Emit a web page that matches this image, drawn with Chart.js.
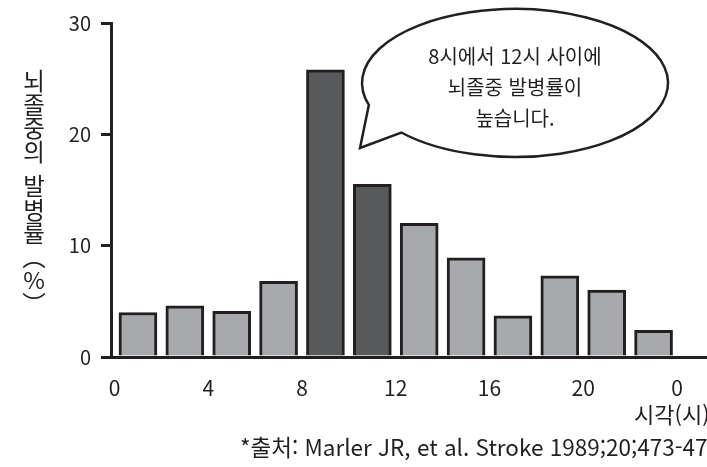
<!DOCTYPE html>
<html lang="ko">
<head>
<meta charset="utf-8">
<script src="https://cdn.jsdelivr.net/npm/chart.js@4"></script>
<style>
    body { margin: 0; background: #fff; overflow: hidden; }
    #wrap { position: relative; width: 707px; height: 467px; overflow: hidden; font-family: "Noto Sans CJK KR", "Noto Sans", sans-serif; color: #231f20; }
    #yTitle { position: absolute; left: 19px; top: 69px; width: 30px; text-align: center; font-size: 23.5px; }
    #yTitle div { height: 23.5px; line-height: 23.5px; }
    #yTitle .hueco { height: 11px; }
    #xTitle { position: absolute; left: 634px; top: 397px; font-size: 22px; white-space: nowrap; }
    #source { position: absolute; left: 240px; top: 430px; font-size: 22.5px; white-space: nowrap; }
    #bubbleText { position: absolute; left: 365px; top: 40px; width: 300px; text-align: center; font-size: 20px; line-height: 31px; }
</style>
</head>
<body>
<div id="wrap">
    <canvas id="chartStroke" width="707" height="467"></canvas>
    <div id="yTitle"></div>
    <div id="xTitle">시각(시)</div>
    <div id="source">*출처: Marler JR, et al. Stroke 1989;20;473-476</div>
    <div id="bubbleText">8시에서 12시 사이에<br>뇌졸중 발병률이<br>높습니다.</div>
</div>
<script>
// centro de cada intervalo de 2 horas
const horas = [1, 3, 5, 7, 9, 11, 13, 15, 17, 19, 21, 23];
const tasas = [4.0, 4.6, 4.1, 6.8, 25.8, 15.5, 12.0, 8.9, 3.7, 7.3, 6.0, 2.4];
const horasPico = [9, 11];
const ticksX = [0, 4, 8, 12, 16, 20, 24];
const ticksY = [0, 10, 20, 30];
const tituloY = '뇌졸중의 발병률︵%︶';

const INK = '#231f20';
const GRIS = '#a7a9ac';
const OSCURO = '#58595b';

// titulo vertical, una letra por fila
const cajaY = document.getElementById('yTitle');
[...tituloY].forEach(c => {
    const d = document.createElement('div');
    if (c === ' ') d.className = 'hueco';
    else d.textContent = c;
    cajaY.appendChild(d);
});

// globo de texto (anotacion)
const globo = {
    id: 'globo',
    afterDatasetsDraw(chart) {
        const ctx = chart.ctx;
        const cx = 515, cy = 83, rx = 153, ry = 74;
        const a1 = 162.8 * Math.PI / 180;
        const a2 = 138 * Math.PI / 180;
        ctx.save();
        ctx.beginPath();
        ctx.ellipse(cx, cy, rx, ry, 0, a1, a2, false);
        ctx.lineTo(360, 148);
        ctx.closePath();
        ctx.fillStyle = '#fff';
        ctx.fill();
        ctx.lineWidth = 2.5;
        ctx.strokeStyle = INK;
        ctx.stroke();
        ctx.restore();
    }
};

const fuente = { family: '"Noto Sans CJK KR", "Noto Sans", sans-serif', size: 20 };

new Chart(document.getElementById('chartStroke').getContext('2d'), {
    type: 'bar',
    data: {
        datasets: [{
            data: horas.map((h, i) => ({ x: h, y: tasas[i] })),
            backgroundColor: horas.map(h => horasPico.includes(h) ? OSCURO : GRIS),
            borderColor: INK,
            borderWidth: 3,
            borderSkipped: 'start',
            barThickness: 38
        }]
    },
    options: {
        responsive: false,
        animation: false,
        layout: { padding: { top: 23, right: 0, bottom: 0, left: 0 } },
        plugins: {
            legend: { display: false },
            tooltip: { enabled: false }
        },
        scales: {
            x: {
                type: 'linear',
                offset: false,
                min: -0.15,
                max: 25.28,
                afterFit: s => { s.height = 110; },
                afterBuildTicks: s => { s.ticks = ticksX.map(v => ({ value: v })); },
                grid: { display: false, offset: false },
                border: { display: true, color: INK, width: 3 },
                ticks: {
                    color: INK,
                    font: { ...fuente, size: 21 },
                    padding: 10,
                    maxRotation: 0,
                    callback: v => String(v % 24)
                }
            },
            y: {
                min: 0,
                max: 30,
                afterFit: s => { s.width = 111; },
                afterBuildTicks: s => { s.ticks = ticksY.map(v => ({ value: v })); },
                grid: { drawOnChartArea: false, drawTicks: true, tickLength: 10, color: INK, lineWidth: 3 },
                border: { display: true, color: INK, width: 3 },
                ticks: { color: INK, font: fuente, padding: 10 }
            }
        }
    },
    plugins: [globo]
});
</script>
</body>
</html>
